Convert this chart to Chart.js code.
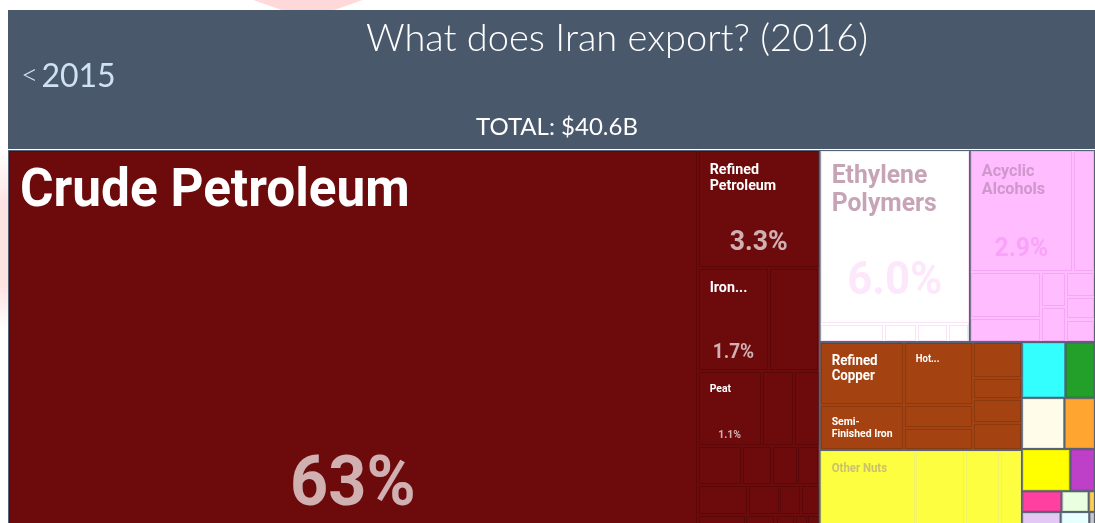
<!DOCTYPE html>
<html>
<head>
<meta charset="utf-8">
<script src="https://cdn.jsdelivr.net/npm/chart.js@4.4.0/dist/chart.umd.min.js"></script>
<style>
  html, body { margin: 0; padding: 0; background: #fff; overflow: hidden; width: 1095px; height: 523px; }
  #wm1 { position: absolute; left: 243px; top: 0; width: 130px; height: 12px; background: #ffd9d9;
         clip-path: polygon(8% 0, 92% 0, 66% 100%, 34% 100%); }
  #wm2 { position: absolute; left: 0; top: 150px; width: 10px; height: 180px;
         background: linear-gradient(180deg, #fff 0%, #ffe2e2 30%, #ffe2e2 75%, #fff 100%); }
  #chartBox { position: absolute; left: 0; top: 0; width: 1095px; height: 550px; }
  #header { position: absolute; left: 8px; top: 10px; width: 1087px; height: 139px; background: #4a586c; }
  .txt { position: absolute; font-family: Lato, "Open Sans", sans-serif; white-space: nowrap; }
  #title { left: 0; width: 1234px; top: 17px; text-align: center; font-size: 38px; line-height: 38px; font-weight: 300; color: #fff; }
  #back { left: 21px; top: 59px; font-size: 32px; line-height: 32px; color: #cfe2f4; }
  #back span { font-size: 30px; position: relative; top: -2px; margin-right: 3px; font-weight: 300; }
  #total { left: 0; width: 1114px; top: 114px; text-align: center; font-size: 24px; line-height: 24px; color: #fff; }
</style>
</head>
<body>
<div id="wm1"></div>
<div id="wm2"></div>
<div id="chartBox"><canvas id="treemap"></canvas></div>
<div id="header"></div>
<div class="txt" id="title">What does Iran export? (2016)</div>
<div class="txt" id="back"><span>&lt;</span>2015</div>
<div class="txt" id="total">TOTAL: $40.6B</div>
<script>
// shares of total exports, %
const crudeValue = 63.45;
const mineralRows = [[3.3], [1.7, 1.2], [1.1, 0.55, 0.45], [0.4, 0.27, 0.23, 0.2], [0.35, 0.22, 0.15, 0.13], [0.38, 0.24, 0.15, 0.1, 0.1]];
const mineralRowNames = ["Refined Petroleum", "Iron...", "Peat"];
const plasticsTop = 6.0;
const plasticsBottom = [0.27, 0.14, 0.13, 0.09];
const chemTop = [2.9, 0.62];
const chemBottomCols = [[0.75, 0.39], [0.2, 0.2], [0.17, 0.15, 0.15]];
const metalsCols = [[1.21, 0.88], [1.0, 0.37, 0.35], [0.4, 0.24, 0.27, 0.3]];
const metalsNames = [["Refined Copper", "Semi-Finished Iron"], ["Hot..."]];
const vegValues = [2.2, 1.15, 0.8, 0.5];
const vegNames = ["Other Nuts"];
const otherRows = [[0.56, 0.38], [0.5, 0.36], [0.47, 0.24], [0.19, 0.13, 0.03], [0.34, 0.25, 0.05]];

// styles
const otherColors = [["#33ffff", "#22a02a"], ["#fffdea", "#ffa530"], ["#ffff00", "#bf40c8"], ["#ff40a0", "#eaffe0", "#ffd050"], ["#e2c8f2", "#e8ffff", "#c8c8c8"]];
const groupStyle = {
  mineral:  { fill: "#6d0a0c", line: "rgba(0,0,0,0.17)", name: "#ffffff", pct: "rgba(255,255,255,0.68)" },
  plastics: { fill: "#ffffff", line: "#fbe2f8", name: "#c6a4b6", pct: "#fde8fb" },
  chem:     { fill: "#ffbcff", line: "#f5a6f5", name: "#cf97cc", pct: "#f9a2f9" },
  metals:   { fill: "#a44311", line: "rgba(0,0,0,0.15)", name: "#ffffff", pct: "rgba(255,255,255,0.68)" },
  veg:      { fill: "#fefe40", line: "#f2f266", name: "#cbc06e", pct: "#eeea58" }
};
otherColors.forEach((r, i) => r.forEach((c, j) => {
  groupStyle["o" + i + j] = { fill: c, line: "rgba(0,0,0,0.07)", name: "#fff", pct: "#fff" };
}));
const labelSize = {
  "Crude Petroleum": { name: 54, pct: 70 },
  "Refined Petroleum": { name: 15, pct: 28 },
  "Iron...": { name: 15, pct: 20 },
  "Peat": { name: 11, pct: 11 },
  "Ethylene Polymers": { name: 26, pct: 46 },
  "Acyclic Alcohols": { name: 17, pct: 26 },
  "Refined Copper": { name: 14 },
  "Hot...": { name: 10 },
  "Semi-Finished Iron": { name: 11 },
  "Other Nuts": { name: 12, pct: 12 }
};
const GAP = "#586275";

// tree construction (slice-and-dice, direction per level)
const leaf = (value, name, group) => ({ value, name: name || "", group });
const split = (dir, children) => ({ dir, children });
const grp = (key, node) => Object.assign(node, { groupKey: key });
const row = (vals, g, names) => split("h", vals.map((v, i) => leaf(v, (names || [])[i], g)));
const col = (vals, g, names) => split("v", vals.map((v, i) => leaf(v, (names || [])[i], g)));

const root = split("h", [
  grp("mineral", split("h", [
    leaf(crudeValue, "Crude Petroleum", "mineral"),
    split("v", mineralRows.map((r, i) => row(r, "mineral", [mineralRowNames[i]])))
  ])),
  split("v", [
    split("h", [
      grp("plastics", split("v", [leaf(plasticsTop, "Ethylene Polymers", "plastics"), row(plasticsBottom, "plastics")])),
      grp("chem", split("v", [row(chemTop, "chem", ["Acyclic Alcohols"]), split("h", chemBottomCols.map(c => col(c, "chem")))]))
    ]),
    split("h", [
      split("v", [
        grp("metals", split("h", metalsCols.map((c, i) => col(c, "metals", metalsNames[i])))),
        grp("veg", row(vegValues, "veg", vegNames))
      ]),
      split("v", otherRows.map((r, i) => split("h", r.map((v, j) => grp("o" + i + j, leaf(v, "", "o" + i + j))))))
    ])
  ])
]);

function total(n) { return n.total = n.children ? n.children.reduce((s, c) => s + total(c), 0) : n.value; }
const grand = total(root);
const leaves = [], groups = [];
function place(n, x0, y0, x1, y1) {
  n.rect = [x0, y0, x1, y1];
  if (n.groupKey) groups.push(n);
  if (!n.children) { leaves.push(n); return; }
  let pos = n.dir === "h" ? x0 : y0;
  n.children.forEach(c => {
    const span = (n.dir === "h" ? x1 - x0 : y1 - y0) * c.total / n.total;
    if (n.dir === "h") place(c, pos, y0, pos + span, y1); else place(c, x0, pos, x1, pos + span);
    pos += span;
  });
}
place(root, 0, 0, 1, 1);

const SX = 0.95;
function font(size) { return "bold " + size + "px Roboto, 'Noto Sans', sans-serif"; }
function textW(ctx, s, size) { ctx.font = font(size); return ctx.measureText(s).width * SX; }
function drawText(ctx, s, x, y, size, color, align) {
  ctx.save();
  ctx.font = font(size); ctx.fillStyle = color; ctx.textAlign = align || "left"; ctx.textBaseline = "alphabetic";
  ctx.translate(x, y); ctx.scale(SX, 1); ctx.fillText(s, 0, 0);
  ctx.restore();
}
function wrap(ctx, name, size, avail) {
  const toks = [];
  name.split(" ").forEach(w => w.split(/(?<=-)/).forEach((p, i) => toks.push({ t: p, sp: i === 0 })));
  const lines = []; let line = "";
  toks.forEach(tk => {
    const cand = line ? line + (tk.sp ? " " : "") + tk.t : tk.t;
    if (line && textW(ctx, cand, size) > avail) { lines.push(line); line = tk.t; } else line = cand;
  });
  if (line) lines.push(line);
  return lines;
}
function fmtPct(v) { const p = v / grand * 100; return (p >= 10 ? Math.round(p) : p.toFixed(1)) + "%"; }

const treemapPlugin = {
  id: "treemapCells",
  beforeDatasetsDraw(chart) {
    const { ctx, chartArea: a } = chart;
    const xs = chart.scales.x, ys = chart.scales.y;
    const px = r => [xs.getPixelForValue(r[0]), ys.getPixelForValue(r[1]), xs.getPixelForValue(r[2]), ys.getPixelForValue(r[3])];
    ctx.save();
    ctx.fillStyle = GAP;
    ctx.fillRect(a.left, a.top, a.right - a.left, a.bottom - a.top);
    groups.forEach(g => {
      const [x0, y0, x1, y1] = px(g.rect);
      ctx.fillStyle = groupStyle[g.groupKey].fill;
      ctx.fillRect(x0 + 1, y0 + 1, x1 - x0 - 2, y1 - y0 - 2);
    });
    leaves.forEach(l => {
      const [x0, y0, x1, y1] = px(l.rect);
      ctx.strokeStyle = groupStyle[l.group].line; ctx.lineWidth = 1;
      ctx.strokeRect(Math.round(x0) + 1.5, Math.round(y0) + 1.5, Math.round(x1 - x0) - 3, Math.round(y1 - y0) - 3);
    });
    leaves.forEach(l => {
      const sz = labelSize[l.name];
      if (!sz) return;
      const st = groupStyle[l.group];
      const [x0, y0, x1, y1] = px(l.rect);
      const pad = 12 + sz.name * 0.1;
      const lines = wrap(ctx, l.name, sz.name, x1 - x0 - 18);
      lines.forEach((s, i) => drawText(ctx, s, x0 + 12, y0 + pad + sz.name * 0.71 + i * sz.name * 1.07, sz.name, st.name));
      if (sz.pct) drawText(ctx, fmtPct(l.value), (x0 + x1) / 2, y1 - Math.max(8, sz.pct * 0.64), sz.pct, st.pct, "center");
    });
    ctx.restore();
  }
};

new Chart(document.getElementById("treemap"), {
  type: "scatter",
  data: {
    datasets: [{
      label: "Exports",
      data: leaves.map(l => ({ x: (l.rect[0] + l.rect[2]) / 2, y: (l.rect[1] + l.rect[3]) / 2 })),
      pointRadius: 0,
      pointHoverRadius: 0
    }]
  },
  options: {
    responsive: true,
    maintainAspectRatio: false,
    animation: false,
    layout: { padding: { top: 150, left: 8, right: 0, bottom: 0 } },
    plugins: { legend: { display: false }, tooltip: { enabled: false } },
    scales: {
      x: { type: "linear", min: 0, max: 1, display: false },
      y: { type: "linear", min: 0, max: 1, reverse: true, display: false }
    }
  },
  plugins: [treemapPlugin]
});
</script>
</body>
</html>
